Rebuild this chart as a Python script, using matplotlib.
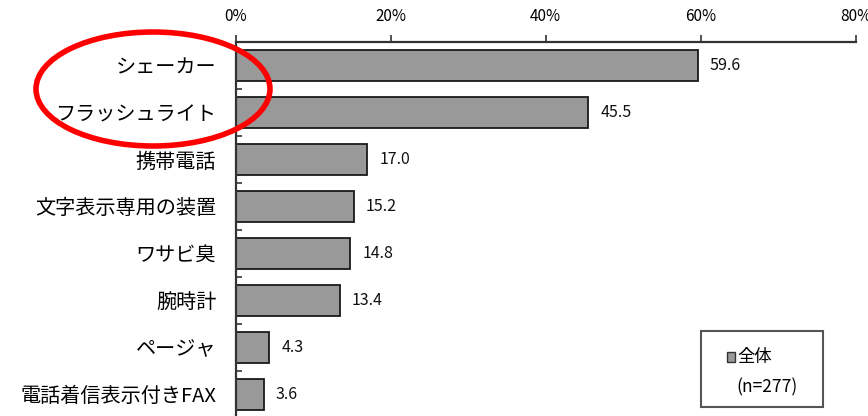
import matplotlib
matplotlib.use("Agg")
import matplotlib.pyplot as plt
from matplotlib.patches import Ellipse, Rectangle
from matplotlib.ticker import FixedLocator, FuncFormatter

plt.rcParams['font.family'] = ['Noto Sans CJK JP', 'DejaVu Sans']

# response share per device (%)
labels = ["シェーカー", "フラッシュライト", "携帯電話", "文字表示専用の装置",
          "ワサビ臭", "腕時計", "ページャ", "電話着信表示付きFAX"]
values = [59.6, 45.5, 17.0, 15.2, 14.8, 13.4, 4.3, 3.6]
xticks = [0, 20, 40, 60, 80]
series_name = "全体"
sample_note = "(n=277)"

W, H = 868, 416
fig = plt.figure(figsize=(W / 100, H / 100), dpi=100)
ax = fig.add_axes([235.7 / W, -2 / H, 620 / W, 376 / H])

pos = list(range(len(labels)))
bars = ax.barh(pos, values, height=0.68, color="#999999",
               edgecolor="#1a1a1a", linewidth=1.3)

for b, v in zip(bars, values):
    ax.text(v + 1.6, b.get_y() + b.get_height() / 2, f"{v:.1f}",
            va="center", ha="left", fontsize=11.5, color="#111111")

ax.set_xlim(0, 80)
ax.set_ylim(len(labels) - 0.5, -0.5)

ax.xaxis.set_ticks_position("top")
ax.xaxis.set_label_position("top")
ax.set_xticks(xticks)
ax.xaxis.set_major_formatter(FuncFormatter(lambda x, _: f"{x:.0f}%"))
ax.tick_params(axis="x", direction="out", length=5, width=1.2,
               color="#333333", pad=7, labelsize=11)

ax.set_yticks(pos)
ax.set_yticklabels(labels, fontsize=14.5)
ax.yaxis.set_minor_locator(FixedLocator([p - 0.5 for p in pos]))
ax.tick_params(axis="y", which="major", length=0, pad=14)
ax.tick_params(axis="y", which="minor", direction="in", length=4,
               width=1.2, color="#333333")

for side in ("right", "bottom"):
    ax.spines[side].set_visible(False)
for side in ("top", "left"):
    ax.spines[side].set_linewidth(1.6)
    ax.spines[side].set_color("#333333")

# legend box
fig.add_artist(Rectangle((701 / W, 1 - 407 / H), 122 / W, 76 / H,
                         transform=fig.transFigure, facecolor="white",
                         edgecolor="#555555", linewidth=1.5))
fig.add_artist(Rectangle((727 / W, 1 - 362 / H), 8 / W, 10 / H,
                         transform=fig.transFigure, facecolor="#999999",
                         edgecolor="#333333", linewidth=1.0))
fig.text(737 / W, 1 - 357 / H, series_name, fontsize=12.5, va="center", ha="left")
fig.text(736 / W, 1 - 387 / H, sample_note, fontsize=12.5, va="center", ha="left")

# highlight the top two answers
fig.add_artist(Ellipse((153 / W, 1 - 89 / H), 234 / W, 114 / H,
                       transform=fig.transFigure, fill=False,
                       edgecolor="#ff0000", linewidth=4))

fig.savefig("out.png", dpi=100)
